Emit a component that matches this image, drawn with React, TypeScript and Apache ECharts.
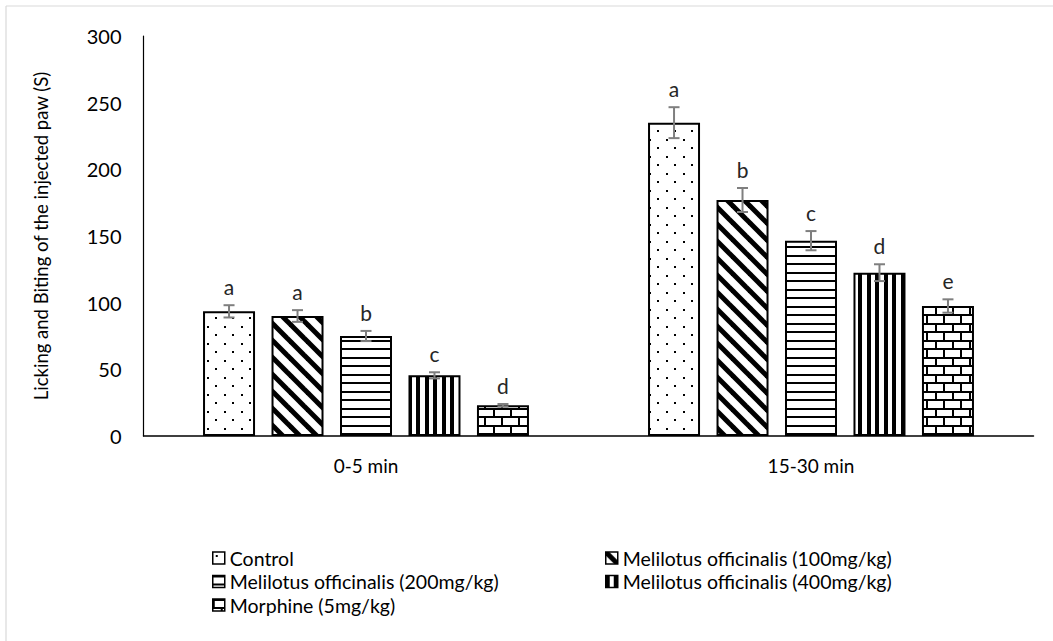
import React, { useEffect, useRef } from 'react';
import * as echarts from 'echarts';

const categories = ['0-5 min', '15-30 min'];
const seriesNames = [
  'Control',
  'Melilotus officinalis (100mg/kg)',
  'Melilotus officinalis (200mg/kg)',
  'Melilotus officinalis (400mg/kg)',
  'Morphine (5mg/kg)',
];
const controlValues = [93.5, 235];
const melilotus100Values = [90, 177];
const melilotus200Values = [75, 146.5];
const melilotus400Values = [45.5, 122.5];
const morphineValues = [23, 97.5];

const controlErrors = [4.6, 11.6];
const melilotus100Errors = [4.4, 9];
const melilotus200Errors = [3.8, 7.2];
const melilotus400Errors = [2.3, 6.3];
const morphineErrors = [1, 5];

const controlLetters = ['a', 'a'];
const melilotus100Letters = ['a', 'b'];
const melilotus200Letters = ['b', 'c'];
const melilotus400Letters = ['c', 'd'];
const morphineLetters = ['d', 'e'];

const yMin = 0;
const yMax = 300;
const yInterval = 50;

const FONT = 'Lato, "Open Sans", sans-serif';
const BAR_W = 52;
const BAR_GAP = 0.317;

function tile(draw: (ctx: CanvasRenderingContext2D) => void) {
  const c = document.createElement('canvas');
  c.width = 17;
  c.height = 17;
  const ctx = c.getContext('2d') as CanvasRenderingContext2D;
  ctx.fillStyle = '#ffffff';
  ctx.fillRect(0, 0, 17, 17);
  ctx.fillStyle = '#000000';
  ctx.strokeStyle = '#000000';
  draw(ctx);
  return { image: c, repeat: 'repeat', imageWidth: 17, imageHeight: 17 } as any;
}

export default function App() {
  const ref = useRef<HTMLDivElement>(null);
  useEffect(() => {
    document.body.style.margin = '0';
    if (!ref.current) return;
    const chart = echarts.init(ref.current, undefined, { renderer: 'svg' });

    const patterns = [
      tile((ctx) => {
        ctx.fillRect(3, 3, 2, 2);
        ctx.fillRect(11, 11, 2, 2);
      }),
      tile((ctx) => {
        ctx.lineWidth = 5;
        for (const k of [-17, 0, 17]) {
          ctx.beginPath();
          ctx.moveTo(k - 5, -5);
          ctx.lineTo(k + 22, 22);
          ctx.stroke();
        }
      }),
      tile((ctx) => {
        ctx.fillRect(0, 0, 17, 2);
        ctx.fillRect(0, 8, 17, 2);
      }),
      tile((ctx) => {
        ctx.fillRect(0, 0, 4, 17);
        ctx.fillRect(8, 0, 4, 17);
      }),
      tile((ctx) => {
        ctx.fillRect(0, 0, 17, 2);
        ctx.fillRect(0, 8, 17, 2);
        ctx.fillRect(0, 0, 2, 9);
        ctx.fillRect(8, 8, 2, 9);
      }),
    ];

    const values = [controlValues, melilotus100Values, melilotus200Values, melilotus400Values, morphineValues];
    const errors = [controlErrors, melilotus100Errors, melilotus200Errors, melilotus400Errors, morphineErrors];
    const letters = [controlLetters, melilotus100Letters, melilotus200Letters, melilotus400Letters, morphineLetters];
    const n = seriesNames.length;

    const barSeries = seriesNames.map((name, i) => ({
      name,
      type: 'bar',
      data: values[i],
      barWidth: BAR_W,
      barGap: (BAR_GAP * 100).toFixed(1) + '%',
      itemStyle: { color: patterns[i], borderColor: '#000000', borderWidth: 2 },
      emphasis: { disabled: true },
      z: 2,
    }));

    const errSeries = seriesNames.map((name, i) => ({
      type: 'custom',
      name: name + ' error',
      z: 5,
      data: values[i].map((v, j) => [j, v, errors[i][j]]),
      renderItem: (params: any, api: any) => {
        const j = api.value(0);
        const v = api.value(1);
        const e = api.value(2);
        const c = api.coord([j, v]);
        const pitch = BAR_W * (1 + BAR_GAP);
        const x = c[0] + (i - (n - 1) / 2) * pitch;
        const top = api.coord([j, v + e])[1];
        const bot = api.coord([j, v - e])[1];
        const cap = 5.5;
        const st = { stroke: '#7f7f7f', lineWidth: 2 };
        return {
          type: 'group',
          children: [
            { type: 'line', shape: { x1: x, y1: top, x2: x, y2: bot }, style: st },
            { type: 'line', shape: { x1: x - cap, y1: top, x2: x + cap, y2: top }, style: st },
            { type: 'line', shape: { x1: x - cap, y1: bot, x2: x + cap, y2: bot }, style: st },
            {
              type: 'text',
              x,
              y: top - 8,
              style: {
                text: letters[i][params.dataIndex],
                fill: '#262626',
                font: '21px ' + FONT,
                textAlign: 'center',
                textVerticalAlign: 'bottom',
              },
            },
          ],
        };
      },
    }));

    const legendCommon = {
      orient: 'vertical',
      top: 543,
      itemWidth: 12,
      itemHeight: 12,
      itemGap: 3.5,
      icon: 'rect',
      itemStyle: { borderWidth: 1.5, borderColor: '#000' },
      textStyle: { fontSize: 19.5, lineHeight: 20, fontFamily: FONT, color: '#000000' },
      selectedMode: false,
    };

    chart.setOption({
      animation: false,
      backgroundColor: '#ffffff',
      grid: { left: 143.5, right: 19.5, top: 36, bottom: 205, containLabel: false },
      xAxis: {
        type: 'category',
        data: categories,
        axisLine: { lineStyle: { color: '#000000', width: 1.5 } },
        axisTick: { show: false },
        axisLabel: { fontSize: 19, fontFamily: FONT, color: '#000000', margin: 20 },
      },
      yAxis: {
        type: 'value',
        min: yMin,
        max: yMax,
        interval: yInterval,
        name: 'Licking and Biting of the injected paw (S)',
        nameLocation: 'middle',
        nameGap: 93,
        nameTextStyle: { fontSize: 18.5, fontFamily: FONT, color: '#000000' },
        axisLine: { show: true, lineStyle: { color: '#000000', width: 1.2 } },
        axisTick: { show: false },
        splitLine: { show: false },
        axisLabel: { fontSize: 20, fontFamily: FONT, color: '#000000', margin: 22 },
      },
      legend: [
        { ...legendCommon, left: 207, data: [seriesNames[0], seriesNames[2], seriesNames[4]] },
        { ...legendCommon, left: 600, data: [seriesNames[1], seriesNames[3]] },
      ],
      graphic: [
        { type: 'line', shape: { x1: 6, y1: 6, x2: 1053, y2: 6 }, style: { stroke: '#d9d9d9', lineWidth: 1.2 }, silent: true },
        { type: 'line', shape: { x1: 6, y1: 6, x2: 6, y2: 641 }, style: { stroke: '#d9d9d9', lineWidth: 1.2 }, silent: true },
      ],
      series: [...barSeries, ...errSeries],
    });
    return () => chart.dispose();
  }, []);
  return <div ref={ref} style={{ width: 1053, height: 641 }} />;
}
